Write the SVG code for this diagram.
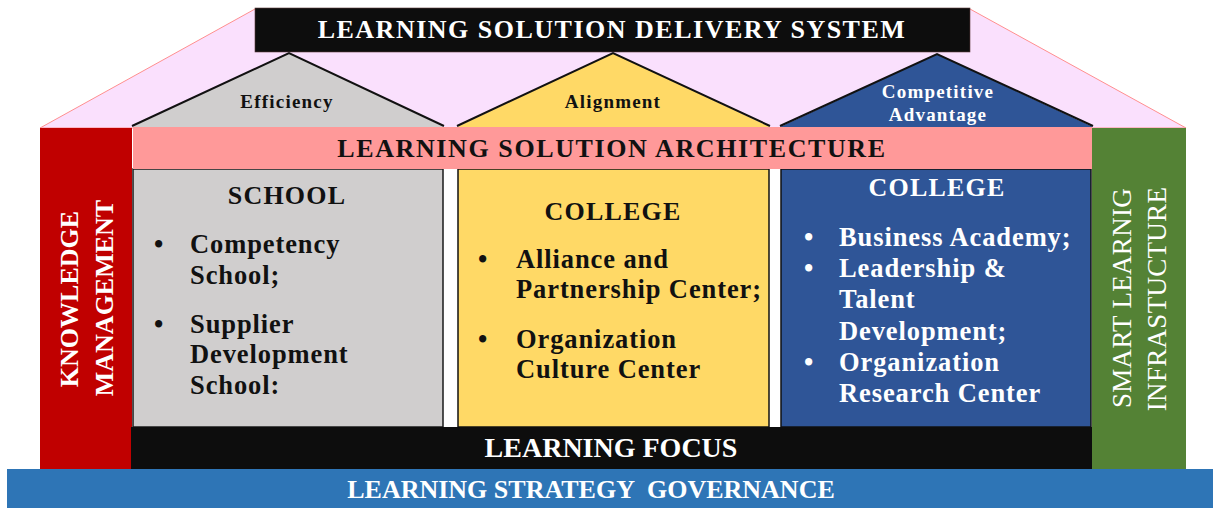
<svg xmlns="http://www.w3.org/2000/svg" width="1213" height="508" viewBox="0 0 1213 508">
<style>
text{font-family:"Liberation Serif","Times New Roman",serif;font-weight:bold}
.c{text-anchor:middle}
.w{fill:#ffffff}
.k{fill:#111111}
.hd{font-size:26px;letter-spacing:1.2px}
.ped{font-size:19px;letter-spacing:1.2px}
.li{font-size:26.5px;letter-spacing:0.9px}
.slope{fill:none;stroke:#111;stroke-width:2;stroke-linejoin:miter}
</style>
<rect x="0" y="0" width="1213" height="508" fill="#ffffff"/>
<g id="roof">
<polygon points="40,128 255,9 970,9 1186,128" fill="#fae0fd" stroke="#ff8f8f" stroke-width="1"/>
</g>
<g id="delivery-system">
<rect x="255" y="8" width="715" height="44" fill="#0d0d0d" stroke="#5a3a3a" stroke-width="0.6"/>
<text class="c w" x="612" y="38" font-size="26" letter-spacing="1.5">LEARNING SOLUTION DELIVERY SYSTEM</text>
</g>
<g id="pediment-efficiency">
<polygon points="132,127 289,53 444,127" fill="#d0cece"/>
<polyline class="slope" points="132,126 289,53 444,126"/>
<text class="c k ped" x="287" y="108">Efficiency</text>
</g>
<g id="pediment-alignment">
<polygon points="457,127 613,53 770,127" fill="#ffd966"/>
<polyline class="slope" points="457,126 613,53 770,126"/>
<text class="c k ped" x="613" y="108">Alignment</text>
</g>
<g id="pediment-competitive">
<polygon points="780,127 937,54 1093,127" fill="#2f5597"/>
<polyline class="slope" points="780,126 937,54 1093,126"/>
<text class="c w ped" x="938" y="98" letter-spacing="1.5">Competitive</text>
<text class="c w ped" x="938" y="121" letter-spacing="1.5">Advantage</text>
</g>
<g id="knowledge-management">
<rect x="40" y="128" width="92" height="341" fill="#c00000"/>
<text class="c w" font-size="26" transform="translate(78,299) rotate(-90)">KNOWLEDGE</text>
<text class="c w" font-size="26" transform="translate(113,298) rotate(-90)">MANAGEMENT</text>
</g>
<g id="smart-learning-infrastructure">
<rect x="1092" y="128" width="94" height="341" fill="#548235"/>
<text class="c w" font-size="27" style="font-weight:normal" letter-spacing="0.3" transform="translate(1131,298) rotate(-90)">SMART LEARNIG</text>
<text class="c w" font-size="27" style="font-weight:normal" letter-spacing="0.3" transform="translate(1166,299) rotate(-90)">INFRASTUCTURE</text>
</g>
<g id="school">
<rect x="133" y="169" width="310" height="258" fill="#d0cece" stroke="#1a1a1a" stroke-width="1.5"/>
<text class="c k hd" x="287" y="204">SCHOOL</text>
<text class="k li" x="154" y="253">•</text>
<text class="k li" x="190" y="253">Competency</text>
<text class="k li" x="190" y="284">School;</text>
<text class="k li" x="154" y="333">•</text>
<text class="k li" x="190" y="333">Supplier</text>
<text class="k li" x="190" y="363">Development</text>
<text class="k li" x="190" y="394">School:</text>
</g>
<g id="college-alliance">
<rect x="458" y="169" width="311" height="258" fill="#ffd966" stroke="#111" stroke-width="1.5"/>
<text class="c k hd" x="613" y="220">COLLEGE</text>
<text class="k li" x="478" y="268">•</text>
<text class="k li" x="516" y="268">Alliance and</text>
<text class="k li" x="516" y="298">Partnership Center;</text>
<text class="k li" x="478" y="348">•</text>
<text class="k li" x="516" y="348">Organization</text>
<text class="k li" x="516" y="378">Culture Center</text>
</g>
<g id="college-business">
<rect x="781" y="169" width="310" height="258" fill="#2f5597" stroke="#111" stroke-width="1.5"/>
<text class="c w hd" x="937" y="196">COLLEGE</text>
<text class="w li" x="804" y="246">•</text>
<text class="w li" x="839" y="246">Business Academy;</text>
<text class="w li" x="804" y="277">•</text>
<text class="w li" x="839" y="277">Leadership &amp;</text>
<text class="w li" x="839" y="308">Talent</text>
<text class="w li" x="839" y="340">Development;</text>
<text class="w li" x="804" y="371">•</text>
<text class="w li" x="839" y="371">Organization</text>
<text class="w li" x="839" y="402">Research Center</text>
</g>
<g id="architecture">
<rect x="133" y="127" width="959" height="42" fill="#ff9999"/>
<text class="c k" x="612" y="157" font-size="26" letter-spacing="1.6">LEARNING SOLUTION ARCHITECTURE</text>
</g>
<g id="learning-focus">
<rect x="131" y="427" width="961" height="42" fill="#0d0d0d"/>
<text class="c w" x="611" y="457" font-size="28">LEARNING FOCUS</text>
</g>
<g id="governance">
<rect x="7" y="469" width="1206" height="39" fill="#2e75b6"/>
<text class="c w" x="591" y="498" font-size="26" xml:space="preserve">LEARNING STRATEGY  GOVERNANCE</text>
</g>
<g id="connectors"/>
</svg>
